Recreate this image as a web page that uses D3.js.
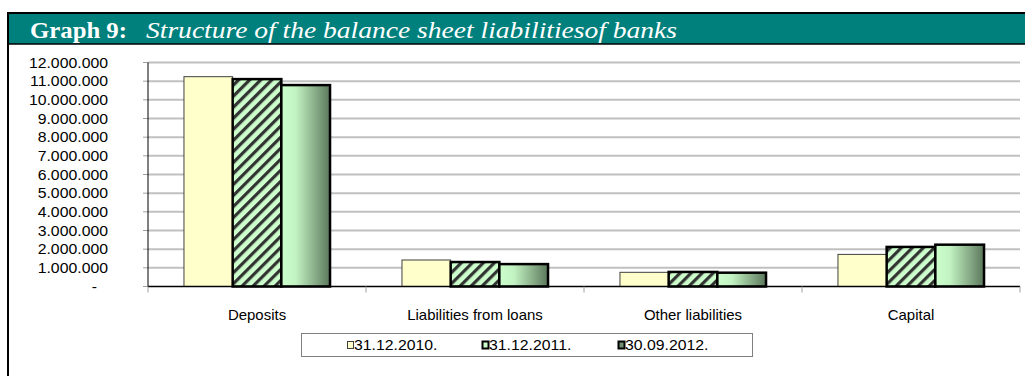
<!DOCTYPE html>
<html>
<head>
<meta charset="utf-8">
<script src="https://cdn.jsdelivr.net/npm/d3@7"></script>
<style>
  html, body { margin: 0; padding: 0; background: #fff; }
  svg { display: block; }
</style>
</head>
<body>
<svg id="chart" width="1025" height="376"></svg>
<script>
// Structure of balance sheet liabilities of banks
const categories = ["Deposits", "Liabilities from loans", "Other liabilities", "Capital"];
const seriesNames = ["31.12.2010.", "31.12.2011.", "30.09.2012."];
const values2010 = [11240000, 1420000, 760000, 1720000];
const values2011 = [11110000, 1310000, 780000, 2120000];
const values2012 = [10790000, 1200000, 740000, 2240000];
const yTicks = [0, 1000000, 2000000, 3000000, 4000000, 5000000, 6000000,
                7000000, 8000000, 9000000, 10000000, 11000000, 12000000];

const series = [values2010, values2011, values2012];
const svg = d3.select("#chart");
const W = 1025, H = 376;
const stretch = 1.13; // horizontal widening of the axis and legend text

const plot = { left: 148, right: 1020, top: 62.5, bottom: 286.5 };

// ---- defs: hatch pattern and gradient ----
const defs = svg.append("defs");
const hatch = defs.append("pattern")
  .attr("id", "hatch")
  .attr("patternUnits", "userSpaceOnUse")
  .attr("width", 7.8).attr("height", 7.8)
  .attr("patternTransform", "rotate(45)");
hatch.append("rect").attr("width", 7.8).attr("height", 7.8).attr("fill", "#ccffcc");
hatch.append("rect").attr("x", 0).attr("width", 3.2).attr("height", 7.8).attr("fill", "#333");

const grad = defs.append("linearGradient")
  .attr("id", "greenGrad")
  .attr("x1", "0%").attr("x2", "100%").attr("y1", "0%").attr("y2", "0%");
grad.append("stop").attr("offset", "0%").attr("stop-color", "#ccffcc");
grad.append("stop").attr("offset", "30%").attr("stop-color", "#c2f2c2");
grad.append("stop").attr("offset", "100%").attr("stop-color", "#5b775b");

const fills = ["#ffffcc", "url(#hatch)", "url(#greenGrad)"];
const strokes = ["#404040", "#000", "#000"];
const strokeW = [1, 2.5, 2.5];

// ---- frame and title bar ----
svg.append("rect").attr("x", 8).attr("y", 13).attr("width", W - 8).attr("height", 31)
  .attr("fill", "#00807c");
svg.append("line").attr("x1", 7).attr("x2", W).attr("y1", 13).attr("y2", 13)
  .attr("stroke", "#000").attr("stroke-width", 2);
svg.append("line").attr("x1", 7).attr("x2", W).attr("y1", 44).attr("y2", 44)
  .attr("stroke", "#000").attr("stroke-width", 1.5);
svg.append("line").attr("x1", 8).attr("x2", 8).attr("y1", 12).attr("y2", H)
  .attr("stroke", "#000").attr("stroke-width", 2);

const titleFont = "'Liberation Serif', 'Times New Roman', serif";
svg.append("text")
  .attr("x", 30).attr("y", 38)
  .attr("font-family", titleFont).attr("font-size", 24)
  .attr("font-weight", "bold").attr("fill", "#fff")
  .attr("textLength", 97).attr("lengthAdjust", "spacingAndGlyphs")
  .text("Graph 9:");
svg.append("text")
  .attr("x", 146).attr("y", 38)
  .attr("font-family", titleFont).attr("font-size", 24)
  .attr("font-style", "italic").attr("fill", "#fff")
  .attr("textLength", 531).attr("lengthAdjust", "spacingAndGlyphs")
  .text("Structure of the balance sheet liabilitiesof banks");

// ---- scales ----
const y = d3.scaleLinear().domain([0, 12000000]).range([plot.bottom, plot.top]);
const x0 = d3.scaleBand().domain(categories).range([plot.left, plot.right])
  .paddingInner(0.33).paddingOuter(0.165);
const x1 = d3.scaleBand().domain(d3.range(series.length)).range([0, x0.bandwidth()]);
const xEdge = d3.scaleBand().domain(categories).range([plot.left, plot.right]);

// gridlines
svg.append("g").selectAll("line")
  .data(yTicks.filter(d => d > 0))
  .join("line")
  .attr("x1", plot.left).attr("x2", plot.right)
  .attr("y1", d => y(d)).attr("y2", d => y(d))
  .attr("stroke", "#c0c0c0").attr("stroke-width", 2);

// y axis ticks and line
svg.append("g").selectAll("line")
  .data(yTicks)
  .join("line")
  .attr("x1", plot.left - 5).attr("x2", plot.left)
  .attr("y1", d => y(d)).attr("y2", d => y(d))
  .attr("stroke", "#a0a0a0").attr("stroke-width", 1);
svg.append("line").attr("x1", plot.left).attr("x2", plot.left)
  .attr("y1", plot.top).attr("y2", plot.bottom)
  .attr("stroke", "#000").attr("stroke-width", 1);

const fmt = d => d3.format(",")(d).replace(/,/g, ".");
svg.append("g").selectAll("text")
  .data(yTicks)
  .join("text")
  .attr("transform", d => `translate(${d === 0 ? 97 : 108},${y(d) + 5}) scale(${stretch},1)`)
  .attr("text-anchor", "end")
  .attr("font-family", "'Liberation Sans', Arial, sans-serif")
  .attr("font-size", 14)
  .attr("fill", "#000")
  .text(d => d === 0 ? "-" : fmt(d));

// bars
const groups = svg.append("g").selectAll("g")
  .data(categories)
  .join("g")
  .attr("transform", d => `translate(${x0(d)},0)`);
groups.selectAll("rect")
  .data((c, ci) => series.map((s, si) => ({ si, v: s[ci] })))
  .join("rect")
  .attr("x", d => x1(d.si))
  .attr("width", x1.bandwidth())
  .attr("y", d => y(d.v))
  .attr("height", d => plot.bottom - y(d.v))
  .attr("fill", d => fills[d.si])
  .attr("stroke", d => strokes[d.si])
  .attr("stroke-width", d => strokeW[d.si]);

// baseline and category ticks
svg.append("line").attr("x1", plot.left).attr("x2", plot.right)
  .attr("y1", plot.bottom).attr("y2", plot.bottom)
  .attr("stroke", "#000").attr("stroke-width", 1.5);
const edges = categories.map(c => xEdge(c)).concat([plot.right]);
svg.append("g").selectAll("line")
  .data(edges)
  .join("line")
  .attr("x1", d => d).attr("x2", d => d)
  .attr("y1", plot.bottom).attr("y2", plot.bottom + 6)
  .attr("stroke", "#a0a0a0").attr("stroke-width", 1);

// category labels
svg.append("g").selectAll("text")
  .data(categories)
  .join("text")
  .attr("transform", d => `translate(${xEdge(d) + xEdge.bandwidth() / 2},320) scale(1.07,1)`)
  .attr("text-anchor", "middle")
  .attr("font-family", "'Liberation Sans', Arial, sans-serif")
  .attr("font-size", 14)
  .attr("fill", "#000")
  .text(d => d);

// legend
svg.append("rect").attr("x", 301.5).attr("y", 333.5).attr("width", 451).attr("height", 23)
  .attr("fill", "#fff").attr("stroke", "#808080").attr("stroke-width", 1);
const legendX = [347, 482, 618];
const leg = svg.append("g").selectAll("g")
  .data(seriesNames)
  .join("g")
  .attr("transform", (d, i) => `translate(${legendX[i]},0)`);
leg.append("rect")
  .attr("x", 0.5).attr("y", 341.5).attr("width", 6).attr("height", 7)
  .attr("fill", (d, i) => i === 0 ? "#ffffcc" : i === 1 ? "#ccffcc" : "#6f8f6f")
  .attr("stroke", (d, i) => i === 0 ? "#404040" : "#000")
  .attr("stroke-width", (d, i) => i === 0 ? 1 : 2);
leg.append("text")
  .attr("transform", `translate(7,350) scale(${stretch},1)`)
  .attr("font-family", "'Liberation Sans', Arial, sans-serif")
  .attr("font-size", 14)
  .attr("fill", "#000")
  .text(d => d);
</script>
</body>
</html>
